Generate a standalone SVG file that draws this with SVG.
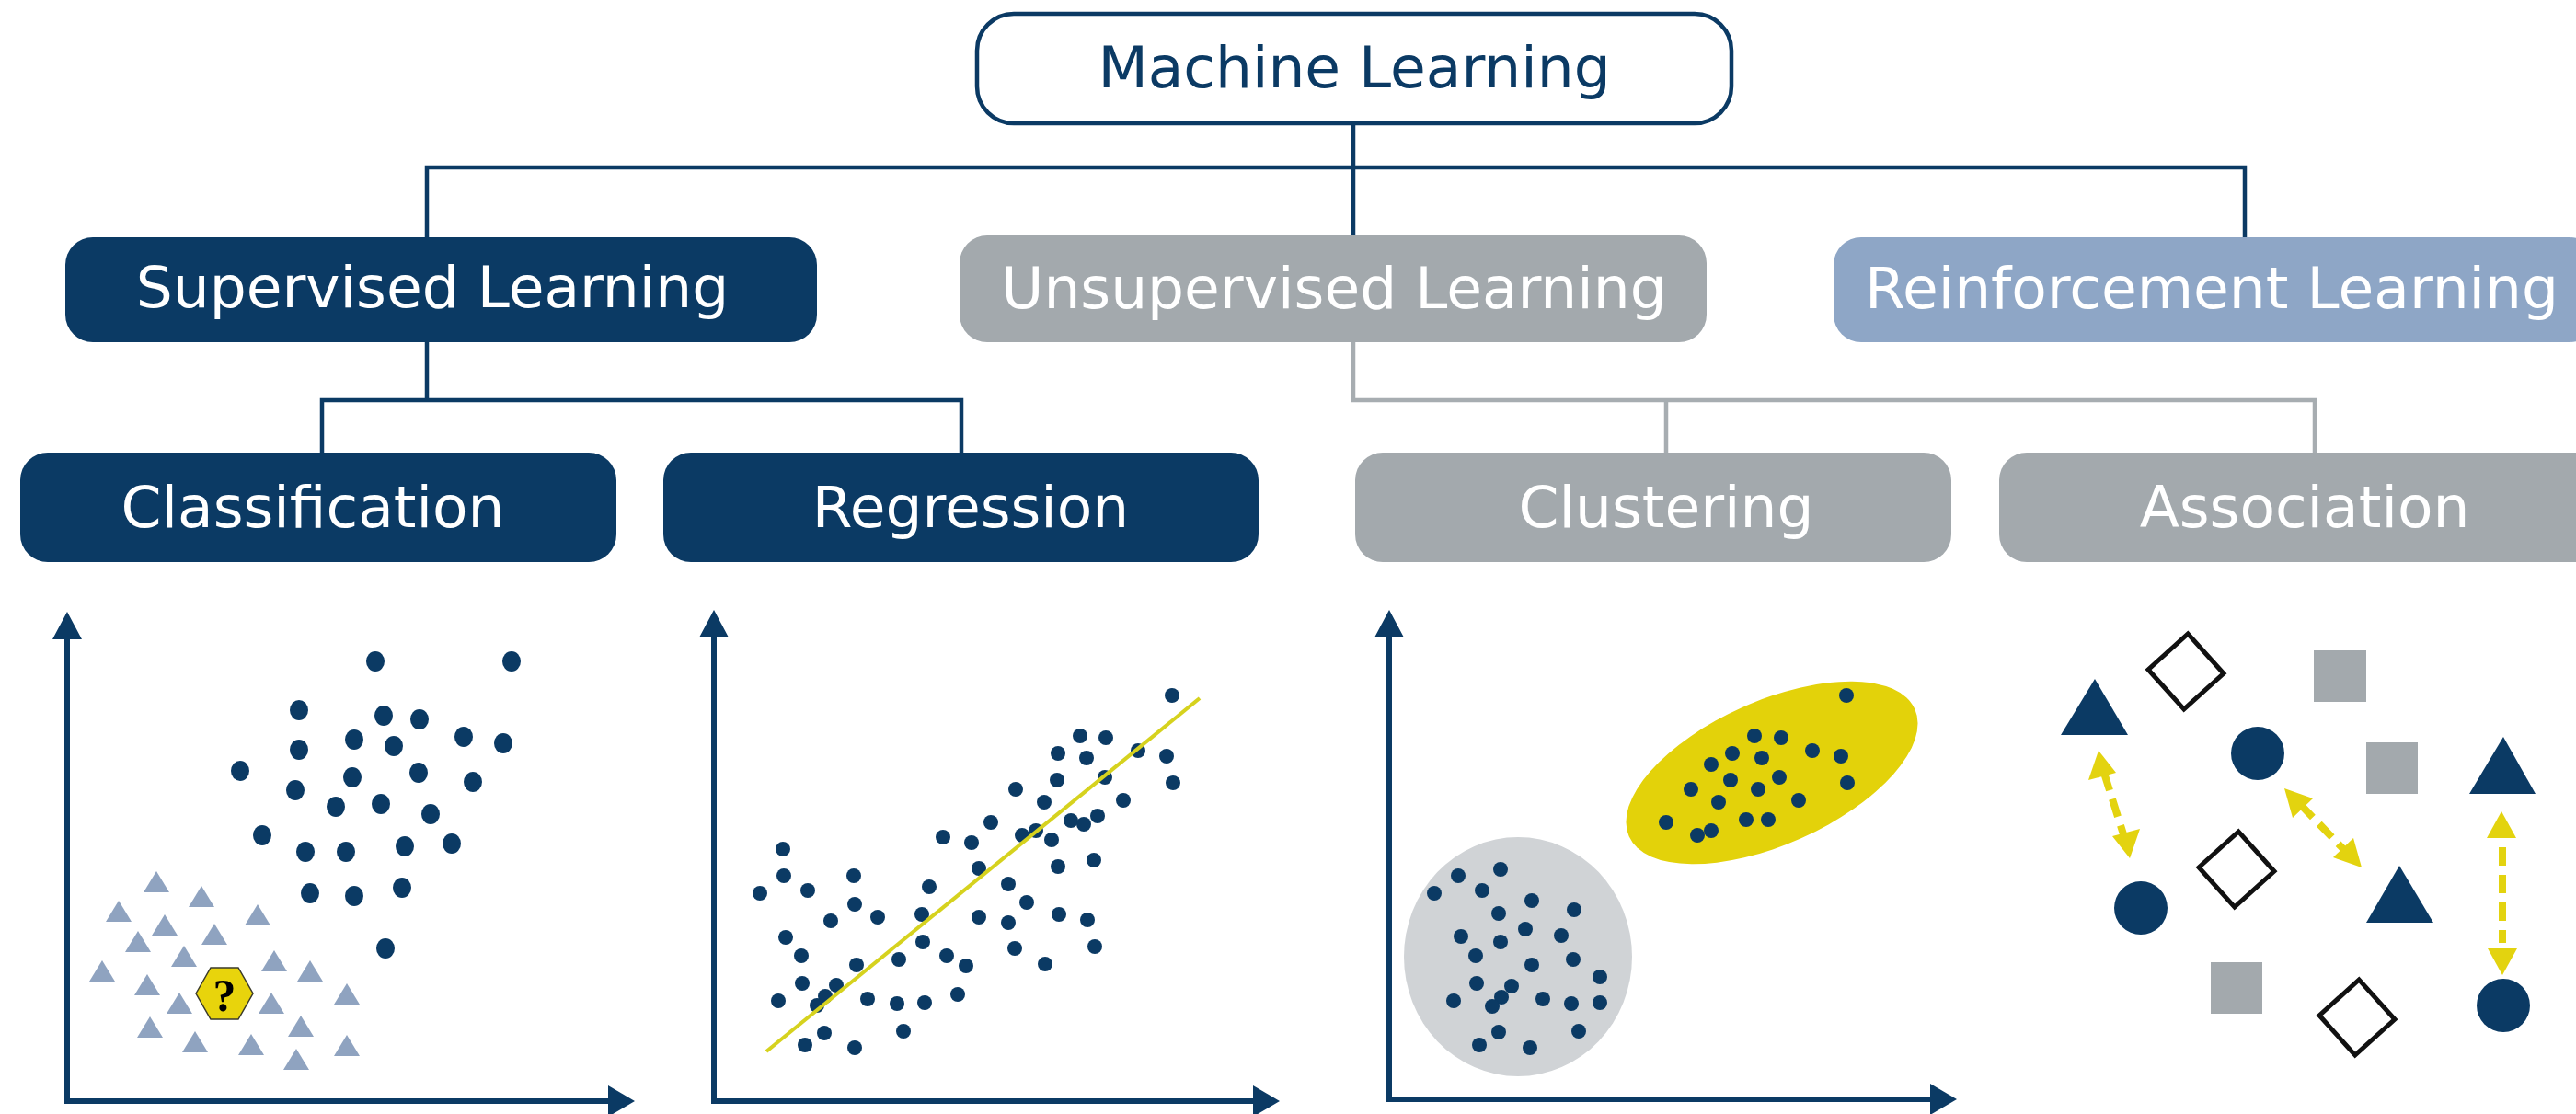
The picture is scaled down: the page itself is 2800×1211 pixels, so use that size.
<svg xmlns="http://www.w3.org/2000/svg" width="2800" height="1211" viewBox="0 0 2800 1211">
<style>
.t{font-family:"DejaVu Sans",Verdana,sans-serif;font-size:63px;text-anchor:middle}
.w{fill:#ffffff}
.navy{fill:#0b3a64}
.gray{fill:#a3a9ad}
.ln{fill:none;stroke:#0b3a64;stroke-width:4.5}
.lg{fill:none;stroke:#a7adb1;stroke-width:4.5}
.ax{fill:none;stroke:#0b3a64;stroke-width:6}
.tri{fill:#8fa3c0}
.dia{fill:#ffffff;stroke:#111111;stroke-width:5}
.ya{fill:none;stroke:#e3d30f;stroke-width:8;stroke-dasharray:20 10}
.yh{fill:#e3d30f}
</style>
<rect width="2800" height="1211" fill="#ffffff"/>

<g id="connectors">
  <path class="ln" d="M1471,134 V259 M464,259 V182 H2440 V259"/>
  <path class="ln" d="M464,372 V435 M350,492 V435 H1045 V492"/>
  <path class="lg" d="M1471,372 V435 H2516 V492 M1811,435 V492"/>
</g>

<g id="machine-learning">
  <rect x="1062" y="15" width="820" height="119" rx="40" fill="#ffffff" stroke="#0b3a64" stroke-width="4.5"/>
  <text class="t navy" x="1472" y="95">Machine Learning</text>
</g>
<g id="supervised">
  <rect x="71" y="258" width="817" height="114" rx="30" class="navy"/>
  <text class="t w" x="470" y="334">Supervised Learning</text>
</g>
<g id="unsupervised">
  <rect x="1043" y="256" width="812" height="116" rx="30" class="gray"/>
  <text class="t w" x="1450" y="335">Unsupervised Learning</text>
</g>
<g id="reinforcement">
  <rect x="1993" y="258" width="830" height="114" rx="30" fill="#8ea6c6"/>
  <text class="t w" x="2404" y="335">Reinforcement Learning</text>
</g>
<g id="classification">
  <rect x="22" y="492" width="648" height="119" rx="30" class="navy"/>
  <text class="t w" x="340" y="573">Classification</text>
</g>
<g id="regression">
  <rect x="721" y="492" width="647" height="119" rx="30" class="navy"/>
  <text class="t w" x="1055" y="573">Regression</text>
</g>
<g id="clustering">
  <rect x="1473" y="492" width="648" height="119" rx="30" class="gray"/>
  <text class="t w" x="1811" y="573">Clustering</text>
</g>
<g id="association">
  <rect x="2173" y="492" width="665" height="119" rx="30" class="gray"/>
  <text class="t w" x="2505" y="573">Association</text>
</g>

<!-- Classification plot -->
<g id="plot-classification">
  <path class="ax" d="M73,692 V1197 H663"/>
  <polygon class="navy" points="73,665 57,695 89,695"/>
  <polygon class="navy" points="690,1197 661,1180 661,1214"/>
  <g class="tri">
    <polygon points="170,947 156,970 184,970"/>
    <polygon points="219,963 205,986 233,986"/>
    <polygon points="129,979 115,1002 143,1002"/>
    <polygon points="280,983 266,1006 294,1006"/>
    <polygon points="179,994 165,1017 193,1017"/>
    <polygon points="233,1004 219,1027 247,1027"/>
    <polygon points="150,1012 136,1035 164,1035"/>
    <polygon points="200,1028 186,1051 214,1051"/>
    <polygon points="298,1033 284,1056 312,1056"/>
    <polygon points="111,1044 97,1067 125,1067"/>
    <polygon points="337,1044 323,1067 351,1067"/>
    <polygon points="160,1059 146,1082 174,1082"/>
    <polygon points="195,1079 181,1102 209,1102"/>
    <polygon points="295,1079 281,1102 309,1102"/>
    <polygon points="377,1069 363,1092 391,1092"/>
    <polygon points="163,1105 149,1128 177,1128"/>
    <polygon points="327,1104 313,1127 341,1127"/>
    <polygon points="212,1121 198,1144 226,1144"/>
    <polygon points="273,1124 259,1147 287,1147"/>
    <polygon points="377,1125 363,1148 391,1148"/>
    <polygon points="322,1140 308,1163 336,1163"/>
  </g>
  <g class="navy">
    <ellipse cx="408" cy="719" rx="10" ry="11"/>
    <ellipse cx="556" cy="719" rx="10" ry="11"/>
    <ellipse cx="325" cy="772" rx="10" ry="11"/>
    <ellipse cx="417" cy="778" rx="10" ry="11"/>
    <ellipse cx="456" cy="782" rx="10" ry="11"/>
    <ellipse cx="385" cy="804" rx="10" ry="11"/>
    <ellipse cx="428" cy="811" rx="10" ry="11"/>
    <ellipse cx="504" cy="801" rx="10" ry="11"/>
    <ellipse cx="547" cy="808" rx="10" ry="11"/>
    <ellipse cx="325" cy="815" rx="10" ry="11"/>
    <ellipse cx="261" cy="838" rx="10" ry="11"/>
    <ellipse cx="383" cy="845" rx="10" ry="11"/>
    <ellipse cx="455" cy="840" rx="10" ry="11"/>
    <ellipse cx="514" cy="850" rx="10" ry="11"/>
    <ellipse cx="321" cy="859" rx="10" ry="11"/>
    <ellipse cx="365" cy="877" rx="10" ry="11"/>
    <ellipse cx="414" cy="874" rx="10" ry="11"/>
    <ellipse cx="468" cy="885" rx="10" ry="11"/>
    <ellipse cx="285" cy="908" rx="10" ry="11"/>
    <ellipse cx="332" cy="926" rx="10" ry="11"/>
    <ellipse cx="376" cy="926" rx="10" ry="11"/>
    <ellipse cx="440" cy="920" rx="10" ry="11"/>
    <ellipse cx="491" cy="917" rx="10" ry="11"/>
    <ellipse cx="337" cy="971" rx="10" ry="11"/>
    <ellipse cx="385" cy="974" rx="10" ry="11"/>
    <ellipse cx="437" cy="965" rx="10" ry="11"/>
    <ellipse cx="419" cy="1031" rx="10" ry="11"/>
  </g>
  <polygon points="213,1080 229,1052 259,1052 275,1080 259,1108 229,1108" fill="#e8d40c" stroke="#3a3a2a" stroke-width="1.5"/>
  <text x="244" y="1099" font-family="Liberation Serif,serif" font-weight="bold" font-size="50" text-anchor="middle" fill="#000000">?</text>
</g>

<!-- Regression plot -->
<g id="plot-regression">
  <path class="ax" d="M776,690 V1197 H1364"/>
  <polygon class="navy" points="776,663 760,693 792,693"/>
  <polygon class="navy" points="1391,1197 1362,1180 1362,1214"/>
  <g class="navy">
    <circle cx="1274" cy="756" r="8"/><circle cx="1174" cy="800" r="8"/><circle cx="1202" cy="802" r="8"/>
    <circle cx="1150" cy="819" r="8"/><circle cx="1181" cy="824" r="8"/><circle cx="1237" cy="816" r="8"/>
    <circle cx="1268" cy="822" r="8"/><circle cx="1275" cy="851" r="8"/><circle cx="1149" cy="848" r="8"/>
    <circle cx="1201" cy="845" r="8"/><circle cx="1104" cy="858" r="8"/><circle cx="1135" cy="872" r="8"/>
    <circle cx="1221" cy="870" r="8"/><circle cx="1077" cy="894" r="8"/><circle cx="1164" cy="892" r="8"/>
    <circle cx="1178" cy="896" r="8"/><circle cx="1193" cy="887" r="8"/><circle cx="1025" cy="910" r="8"/>
    <circle cx="1056" cy="916" r="8"/><circle cx="1111" cy="908" r="8"/><circle cx="1126" cy="903" r="8"/>
    <circle cx="1143" cy="913" r="8"/><circle cx="851" cy="923" r="8"/><circle cx="1150" cy="942" r="8"/>
    <circle cx="1189" cy="935" r="8"/><circle cx="1064" cy="944" r="8"/><circle cx="852" cy="952" r="8"/>
    <circle cx="928" cy="952" r="8"/><circle cx="826" cy="971" r="8"/><circle cx="878" cy="968" r="8"/>
    <circle cx="1010" cy="964" r="8"/><circle cx="1096" cy="961" r="8"/><circle cx="929" cy="983" r="8"/>
    <circle cx="1116" cy="981" r="8"/><circle cx="903" cy="1001" r="8"/><circle cx="954" cy="997" r="8"/>
    <circle cx="1002" cy="994" r="8"/><circle cx="1064" cy="997" r="8"/><circle cx="1096" cy="1003" r="8"/>
    <circle cx="1151" cy="994" r="8"/><circle cx="1182" cy="1000" r="8"/><circle cx="854" cy="1019" r="8"/>
    <circle cx="1003" cy="1024" r="8"/><circle cx="1103" cy="1031" r="8"/><circle cx="1190" cy="1029" r="8"/>
    <circle cx="871" cy="1039" r="8"/><circle cx="931" cy="1049" r="8"/><circle cx="977" cy="1043" r="8"/>
    <circle cx="1029" cy="1039" r="8"/><circle cx="1050" cy="1050" r="8"/><circle cx="1136" cy="1048" r="8"/>
    <circle cx="872" cy="1069" r="8"/><circle cx="909" cy="1071" r="8"/><circle cx="897" cy="1083" r="8"/>
    <circle cx="888" cy="1093" r="8"/><circle cx="846" cy="1088" r="8"/><circle cx="943" cy="1086" r="8"/>
    <circle cx="975" cy="1091" r="8"/><circle cx="1005" cy="1090" r="8"/><circle cx="1041" cy="1081" r="8"/>
    <circle cx="896" cy="1123" r="8"/><circle cx="982" cy="1121" r="8"/><circle cx="875" cy="1136" r="8"/>
    <circle cx="929" cy="1139" r="8"/>
  </g>
  <line x1="833" y1="1143" x2="1304" y2="759" stroke="#d6d21e" stroke-width="4"/>
</g>

<!-- Clustering plot -->
<g id="plot-clustering">
  <path class="ax" d="M1510,690 V1195 H2098"/>
  <polygon class="navy" points="1510,663 1494,693 1526,693"/>
  <polygon class="navy" points="2127,1195 2098,1178 2098,1212"/>
  <ellipse cx="1650" cy="1040" rx="124" ry="130" fill="#d0d3d6"/>
  <ellipse cx="1926" cy="840" rx="170" ry="78" transform="rotate(-24 1926 840)" fill="#e3d20a"/>
  <g class="navy">
    <circle cx="2007" cy="756" r="8"/><circle cx="1907" cy="800" r="8"/><circle cx="1936" cy="802" r="8"/>
    <circle cx="1883" cy="819" r="8"/><circle cx="1915" cy="824" r="8"/><circle cx="1970" cy="816" r="8"/>
    <circle cx="2001" cy="822" r="8"/><circle cx="1860" cy="831" r="8"/><circle cx="1881" cy="848" r="8"/>
    <circle cx="1934" cy="845" r="8"/><circle cx="2008" cy="851" r="8"/><circle cx="1838" cy="858" r="8"/>
    <circle cx="1911" cy="858" r="8"/><circle cx="1868" cy="872" r="8"/><circle cx="1955" cy="870" r="8"/>
    <circle cx="1811" cy="894" r="8"/><circle cx="1845" cy="908" r="8"/><circle cx="1860" cy="903" r="8"/>
    <circle cx="1898" cy="891" r="8"/><circle cx="1922" cy="891" r="8"/>
    <circle cx="1631" cy="945" r="8"/><circle cx="1585" cy="952" r="8"/><circle cx="1559" cy="971" r="8"/>
    <circle cx="1611" cy="968" r="8"/><circle cx="1665" cy="979" r="8"/><circle cx="1711" cy="989" r="8"/>
    <circle cx="1629" cy="993" r="8"/><circle cx="1658" cy="1010" r="8"/><circle cx="1697" cy="1017" r="8"/>
    <circle cx="1588" cy="1018" r="8"/><circle cx="1631" cy="1024" r="8"/><circle cx="1604" cy="1039" r="8"/>
    <circle cx="1710" cy="1043" r="8"/><circle cx="1665" cy="1049" r="8"/><circle cx="1739" cy="1062" r="8"/>
    <circle cx="1605" cy="1069" r="8"/><circle cx="1643" cy="1072" r="8"/><circle cx="1632" cy="1084" r="8"/>
    <circle cx="1622" cy="1094" r="8"/><circle cx="1580" cy="1088" r="8"/><circle cx="1677" cy="1086" r="8"/>
    <circle cx="1708" cy="1091" r="8"/><circle cx="1739" cy="1090" r="8"/><circle cx="1629" cy="1122" r="8"/>
    <circle cx="1716" cy="1121" r="8"/><circle cx="1608" cy="1136" r="8"/><circle cx="1663" cy="1139" r="8"/>
  </g>
</g>

<!-- Association plot -->
<g id="plot-association">
  <g class="gray">
    <rect x="2515" y="707" width="57" height="56"/>
    <rect x="2572" y="807" width="56" height="56"/>
    <rect x="2403" y="1046" width="56" height="56"/>
  </g>
  <rect class="dia" x="2347" y="701" width="58" height="58" transform="rotate(48 2376 730)"/>
  <rect class="dia" x="2402" y="916" width="58" height="58" transform="rotate(48 2431 945)"/>
  <rect class="dia" x="2533" y="1077" width="58" height="58" transform="rotate(48 2562 1106)"/>
  <g class="navy">
    <polygon points="2277,738 2240,799 2313,799"/>
    <polygon points="2721,801 2684,863 2756,863"/>
    <polygon points="2608,941 2572,1003 2645,1003"/>
    <circle cx="2454" cy="819" r="29"/>
    <circle cx="2327" cy="987" r="29"/>
    <circle cx="2721" cy="1093" r="29"/>
  </g>
  <line class="ya" x1="2287" y1="840" x2="2309" y2="910"/>
  <polygon class="yh" points="2281,816 2270,848 2300,840"/>
  <polygon class="yh" points="2315,933 2326,901 2296,909"/>
  <line class="ya" x1="2500" y1="874" x2="2550" y2="926"/>
  <polygon class="yh" points="2483,857 2492,889 2514,868"/>
  <polygon class="yh" points="2567,943 2558,911 2536,932"/>
  <line class="ya" x1="2720" y1="915" x2="2720" y2="1025" stroke-dashoffset="-6"/>
  <polygon class="yh" points="2719,882 2703,911 2735,911"/>
  <polygon class="yh" points="2720,1060 2704,1031 2736,1031"/>
</g>
</svg>
